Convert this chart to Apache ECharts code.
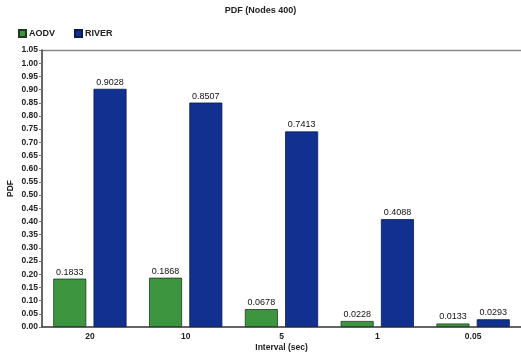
<!DOCTYPE html>
<html>
<head>
<meta charset="utf-8">
<script src="https://cdn.jsdelivr.net/npm/echarts@6/dist/echarts.min.js"></script>
<style>
  html, body { margin: 0; padding: 0; background: #fff; }
  #chart { width: 521px; height: 358px; }
</style>
</head>
<body>
<div id="chart"></div>
<script>
// Packet delivery fraction per send interval
const intervals = ['20', '10', '5', '1', '0.05'];
const aodv = [0.1833, 0.1868, 0.0678, 0.0228, 0.0133];
const river = [0.9028, 0.8507, 0.7413, 0.4088, 0.0293];
const seriesNames = ['AODV', 'RIVER'];

const FONT = '"Liberation Sans", Arial, sans-serif';

const chart = echarts.init(document.getElementById('chart'), null, { renderer: 'canvas' });

const labelStyle = {
  show: true,
  position: 'top',
  distance: 2,
  fontFamily: FONT,
  fontSize: 9,
  color: '#111',
  formatter: p => p.value.toFixed(4)
};

chart.setOption({
  animation: false,
  backgroundColor: '#fff',
  title: {
    text: 'PDF (Nodes 400)',
    left: 'center',
    top: 1,
    textStyle: { fontFamily: FONT, fontSize: 9, fontWeight: 'bold', color: '#222' }
  },
  legend: {
    data: seriesNames,
    left: 13,
    top: 24,
    itemWidth: 7,
    itemHeight: 7,
    itemGap: 19,
    icon: 'rect',
    textStyle: { fontFamily: FONT, fontSize: 9, fontWeight: 'bold', color: '#222', padding: [0, 0, 0, -2] }
  },
  grid: { left: 42, right: 0, top: 50, bottom: 31, outerBoundsMode: 'none' },
  xAxis: {
    type: 'category',
    data: intervals,
    name: 'Interval (sec)',
    nameLocation: 'middle',
    nameGap: 16,
    nameMoveOverlap: false,
    nameTextStyle: { fontFamily: FONT, fontSize: 8.5, fontWeight: 'bold', color: '#222' },
    axisLine: { lineStyle: { color: '#333', width: 1.5 } },
    axisTick: { alignWithLabel: true, length: 3, lineStyle: { color: '#777' } },
    axisLabel: { fontFamily: FONT, fontSize: 8.5, fontWeight: 'bold', color: '#222', margin: 5 }
  },
  yAxis: {
    type: 'value',
    min: 0,
    max: 1.05,
    interval: 0.05,
    name: 'PDF',
    nameLocation: 'middle',
    nameGap: 27,
    nameMoveOverlap: false,
    nameRotate: 90,
    nameTextStyle: { fontFamily: FONT, fontSize: 8.5, fontWeight: 'bold', color: '#222' },
    axisLine: { show: true, lineStyle: { color: '#333', width: 1.5 } },
    axisTick: { show: true, length: 3, lineStyle: { color: '#777' } },
    splitLine: { show: false },
    axisLabel: {
      fontFamily: FONT, fontSize: 8.5, fontWeight: 'bold', color: '#222', margin: 4,
      formatter: v => v.toFixed(2)
    }
  },
  series: [
    {
      name: seriesNames[0],
      type: 'bar',
      data: aodv,
      barWidth: 33,
      barGap: '22%',
      itemStyle: { color: '#3e9540', borderColor: '#1d3a1e', borderWidth: 0.8 },
      label: labelStyle
    },
    {
      name: seriesNames[1],
      type: 'bar',
      data: river,
      barWidth: 33,
      barGap: '22%',
      itemStyle: { color: '#11308f', borderColor: '#0a1a50', borderWidth: 0.8 },
      label: labelStyle
    }
  ],
  graphic: [
    {
      type: 'line',
      shape: { x1: 42, y1: 50.5, x2: 521, y2: 50.5 },
      style: { stroke: '#888', lineWidth: 1.5 },
      silent: true
    }
  ]
});
</script>
</body>
</html>
